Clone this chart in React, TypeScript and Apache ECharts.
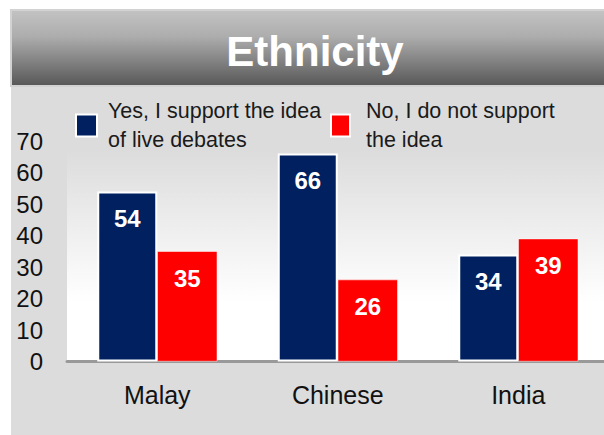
import React, { useEffect, useRef } from "react";
import * as echarts from "echarts";

const categories = ["Malay", "Chinese", "India"];
const yesValues = [54, 66, 34];
const noValues = [35, 26, 39];
const seriesNames = ["Yes, I support the idea\nof live debates", "No, I do not support\nthe idea"];
const titleText = "Ethnicity";

export default function App() {
  const ref = useRef<HTMLDivElement>(null);
  useEffect(() => {
    if (!ref.current) return;
    const chart = echarts.init(ref.current, null, { renderer: "svg" });
    const font = "Liberation Sans, Arial, sans-serif";
    chart.setOption({
      animation: false,
      backgroundColor: "#ffffff",
      graphic: [
        {
          type: "rect",
          z: -10,
          silent: true,
          shape: { x: 11, y: 86, width: 610, height: 349 },
          style: { fill: "#dcdcdc" },
        },
        {
          type: "rect",
          z: -9,
          silent: true,
          shape: { x: 67, y: 150, width: 560, height: 211 },
          style: {
            fill: new echarts.graphic.LinearGradient(0, 0, 0, 1, [
              { offset: 0, color: "#dcdcdc" },
              { offset: 0.72, color: "#ffffff" },
              { offset: 1, color: "#ffffff" },
            ]),
          },
        },
        {
          type: "rect",
          z: -8,
          silent: true,
          shape: { x: 11, y: 10, width: 610, height: 76 },
          style: {
            fill: new echarts.graphic.LinearGradient(0, 0, 0, 1, [
              { offset: 0, color: "#c3c3c3" },
              { offset: 0.35, color: "#adadad" },
              { offset: 1, color: "#575757" },
            ]),
            stroke: "#d2d2d2",
            lineWidth: 2,
          },
        },
        {
          type: "text",
          z: 10,
          silent: true,
          x: 315,
          y: 51,
          style: {
            text: titleText,
            fill: "#ffffff",
            font: `bold 42px ${font}`,
            align: "center",
            verticalAlign: "middle",
          },
        },
      ],
      legend: [
        {
          data: [seriesNames[0]],
          left: 75,
          top: 97,
          padding: 0,
          icon: "rect",
          itemWidth: 21,
          itemHeight: 22,
          itemStyle: { borderColor: "#ffffff", borderWidth: 2 },
          textStyle: { fontSize: 21.5, lineHeight: 28.5, color: "#1a1a1a", fontFamily: font, padding: [0, 0, 0, 6] },
          selectedMode: false,
        },
        {
          data: [seriesNames[1]],
          left: 330,
          top: 97,
          padding: 0,
          icon: "rect",
          itemWidth: 19,
          itemHeight: 22,
          itemStyle: { borderColor: "#ffffff", borderWidth: 2 },
          textStyle: { fontSize: 21.5, lineHeight: 28.5, color: "#1a1a1a", fontFamily: font, padding: [0, 0, 0, 11] },
          selectedMode: false,
        },
      ],
      grid: { left: 67, top: 141, width: 541.5, height: 220.5, containLabel: false },
      xAxis: {
        type: "category",
        data: categories,
        axisLine: { show: true, lineStyle: { color: "#999999", width: 3 } },
        axisTick: { show: false },
        axisLabel: { fontSize: 25, color: "#111111", fontFamily: font, margin: 21 },
      },
      yAxis: {
        type: "value",
        min: 0,
        max: 70,
        interval: 10,
        axisLine: { show: false },
        axisTick: { show: false },
        splitLine: { show: false },
        axisLabel: { fontSize: 24, color: "#111111", fontFamily: font, margin: 24 },
      },
      series: [
        {
          name: seriesNames[0],
          type: "bar",
          data: yesValues,
          barWidth: 60,
          barGap: "0%",
          itemStyle: { color: "#002060", borderColor: "#ffffff", borderWidth: 2 },
          label: {
            show: true,
            position: "insideTop",
            distance: 15,
            color: "#ffffff",
            fontWeight: "bold",
            fontSize: 24,
            fontFamily: font,
          },
        },
        {
          name: seriesNames[1],
          type: "bar",
          data: noValues,
          barWidth: 60,
          barGap: "0%",
          itemStyle: { color: "#ff0000", borderColor: "#ffffff", borderWidth: 0.5 },
          label: {
            show: true,
            position: "insideTop",
            distance: 15,
            color: "#ffffff",
            fontWeight: "bold",
            fontSize: 24,
            fontFamily: font,
          },
        },
      ],
    });
    return () => chart.dispose();
  }, []);
  return (
    <div style={{ position: "absolute", left: 0, top: 0, width: 604, height: 435, overflow: "hidden" }}>
      <div ref={ref} style={{ width: 612, height: 435 }} />
    </div>
  );
}
